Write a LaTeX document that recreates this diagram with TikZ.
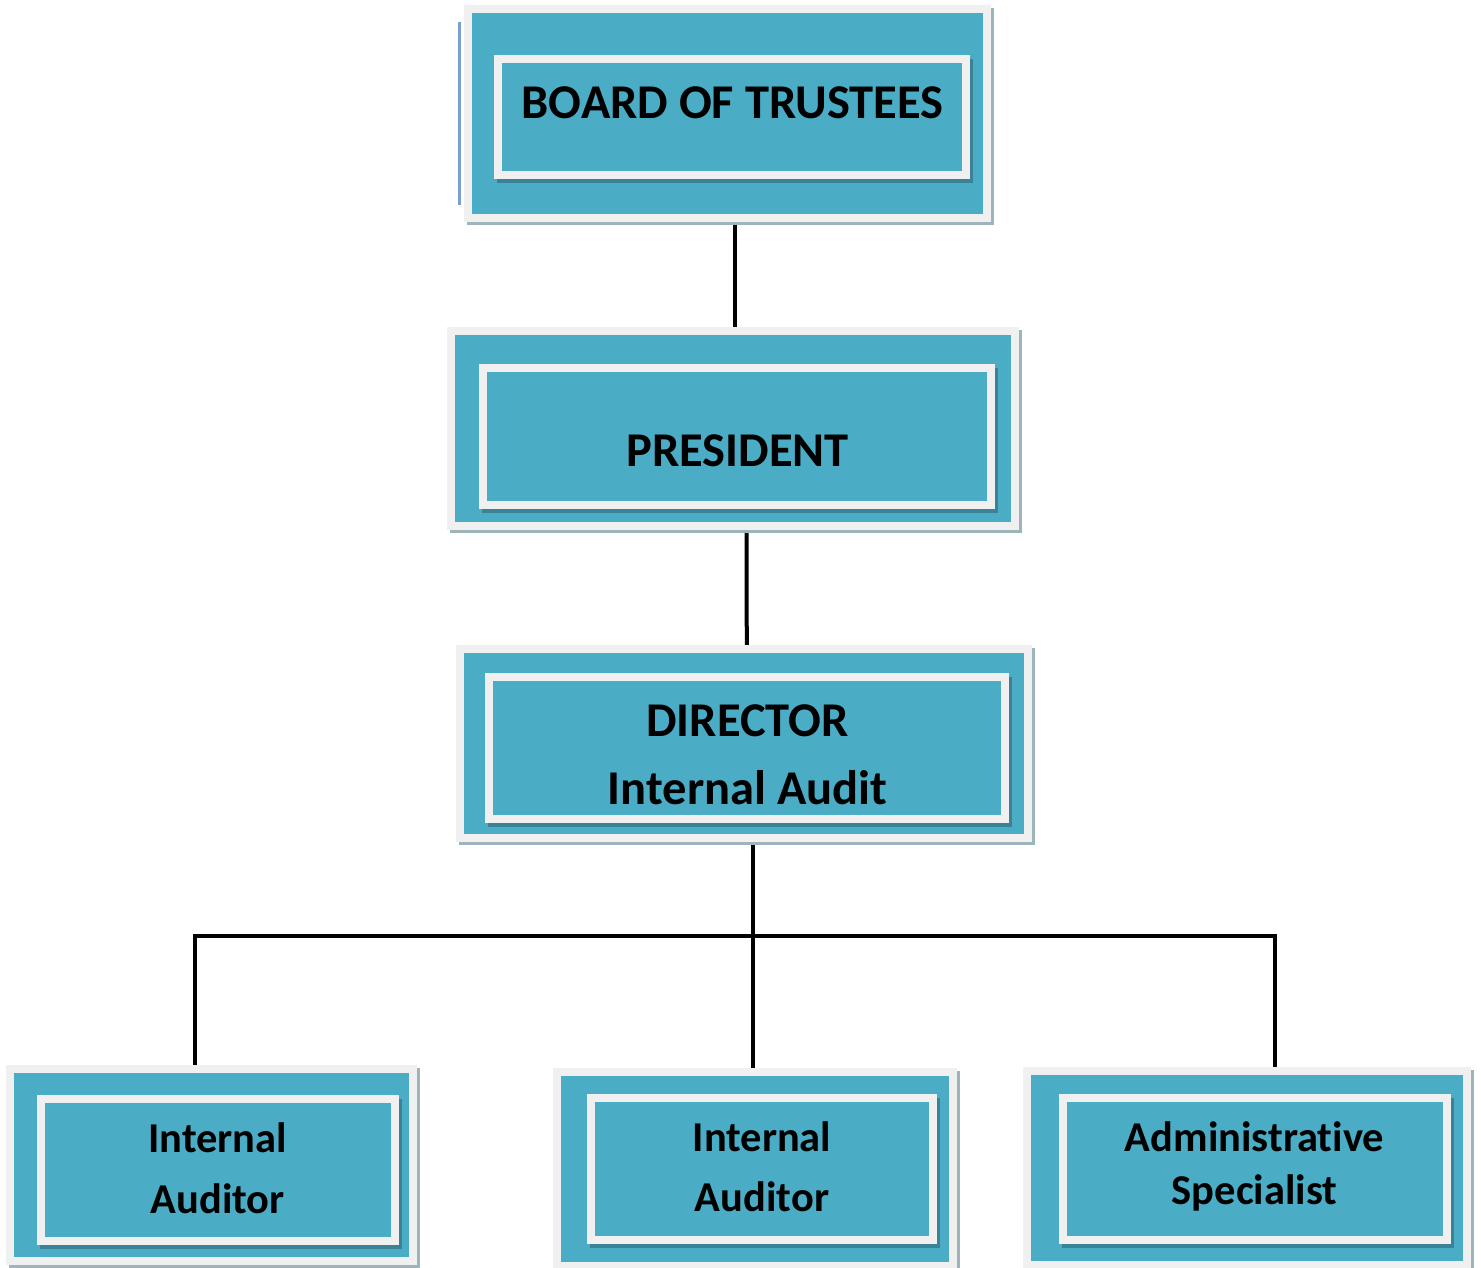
\documentclass[tikz,border=0pt]{standalone}
\usepackage{fontspec}
\setmainfont[Ligatures={NoCommon}]{Carlito}
\usetikzlibrary{fit,backgrounds}

\definecolor{panelteal}{HTML}{4BACC6}
\definecolor{panelrim}{HTML}{F0F0F0}
\definecolor{rimshadow}{HTML}{9DB4BA}
\definecolor{innershadow}{HTML}{3A8397}
\definecolor{sideline}{HTML}{7C9FD3}

\tikzset{
  wire/.style={line width=4pt, black},
  bigtext/.style={font=\fontsize{48.5}{58}\selectfont\bfseries, anchor=base, inner sep=0pt},
  smalltext/.style={font=\fontsize{42.5}{51}\selectfont\bfseries, anchor=base, inner sep=0pt},
  frame/.style={inner sep=0pt, outer sep=0pt},
}

% #1 name, #2-#5 outer rim corners, #6-#9 inner rim corners (pixel units, y down)
\newcommand{\orgpanel}[9]{%
  \fill[rimshadow] (#2+3,#3+3) rectangle (#4+3,#5+3);
  \fill[panelrim] (#2,#3) rectangle (#4,#5);
  \fill[panelteal] (#2+8,#3+8) rectangle (#4-8,#5-8);
  \fill[innershadow] (#6+3,#7+4) rectangle (#8+3,#9+4);
  \fill[panelrim] (#6,#7) rectangle (#8,#9);
  \fill[panelteal] (#6+8,#7+8) rectangle (#8-8,#9-8);
  \node[frame, fit={(#2,#3) (#4,#5)}] (#1) {};
  \node[frame, fit={(#6,#7) (#8,#9)}] (#1-in) {};
}

\begin{document}
\begin{tikzpicture}[x=1pt, y=-1pt]
  \useasboundingbox (0,0) rectangle (1481,1268);

  % panels
  \draw[sideline, line width=3.5pt] (459.5,22) -- (459.5,205);
  \orgpanel{board}{464}{5}{991}{222}{494}{55}{970}{179}
  \orgpanel{pres}{447}{327}{1019}{530}{479}{364}{995}{509}
  \orgpanel{dir}{455.5}{645}{1032}{842}{484.5}{672.7}{1009}{822.7}
  \orgpanel{audA}{6}{1064.5}{416.5}{1265}{36.7}{1095}{399}{1245}
  \orgpanel{audB}{552.7}{1068.3}{956.7}{1269.7}{586.7}{1094}{937.3}{1244}
  \orgpanel{admin}{1022.7}{1067}{1471}{1268.7}{1059}{1094}{1451}{1244}

  % labels
  \node[bigtext] (boardtxt) at (732.5,118.5) {BOARD OF TRUSTEES};
  \node[bigtext] (prestxt) at (737.5,466.7) {PRESIDENT};
  \node[bigtext] (dirtxt1) at (747.5,736) {DIRECTOR};
  \node[bigtext] (dirtxt2) at (747.5,804) {Internal Audit};
  \node[smalltext] (audAtxt1) at (217.7,1152.3) {Internal};
  \node[smalltext] (audAtxt2) at (217.7,1213.3) {Auditor};
  \node[smalltext] (audBtxt1) at (762,1151.7) {Internal};
  \node[smalltext] (audBtxt2) at (762,1211.7) {Auditor};
  \node[smalltext] (admintxt1) at (1254.5,1151.7) {Administrative};
  \node[smalltext] (admintxt2) at (1254.5,1204) {Specialist};

  % reporting lines
  \coordinate (bus) at (0,936);
  \coordinate (dropA) at ([xshift=-16.5pt]audA.north);
  \coordinate (dropC) at ([xshift=28.15pt]admin.north);
  \begin{pgfonlayer}{background}
    \fill[white] (0,0) rectangle (1481,1268);
    \draw[wire] ([xshift=7pt]board.south) -- ([xshift=1.5pt]pres.north);
    \draw[wire] ([xshift=13.7pt]pres.south) -- ([xshift=3pt]dir.north);
    \draw[wire] ([xshift=8.75pt]dir.south) -- ([xshift=-2.2pt]audB.north);
    \draw[wire] (dropA) -- (dropA |- bus) -| (dropC);
  \end{pgfonlayer}
\end{tikzpicture}
\end{document}
